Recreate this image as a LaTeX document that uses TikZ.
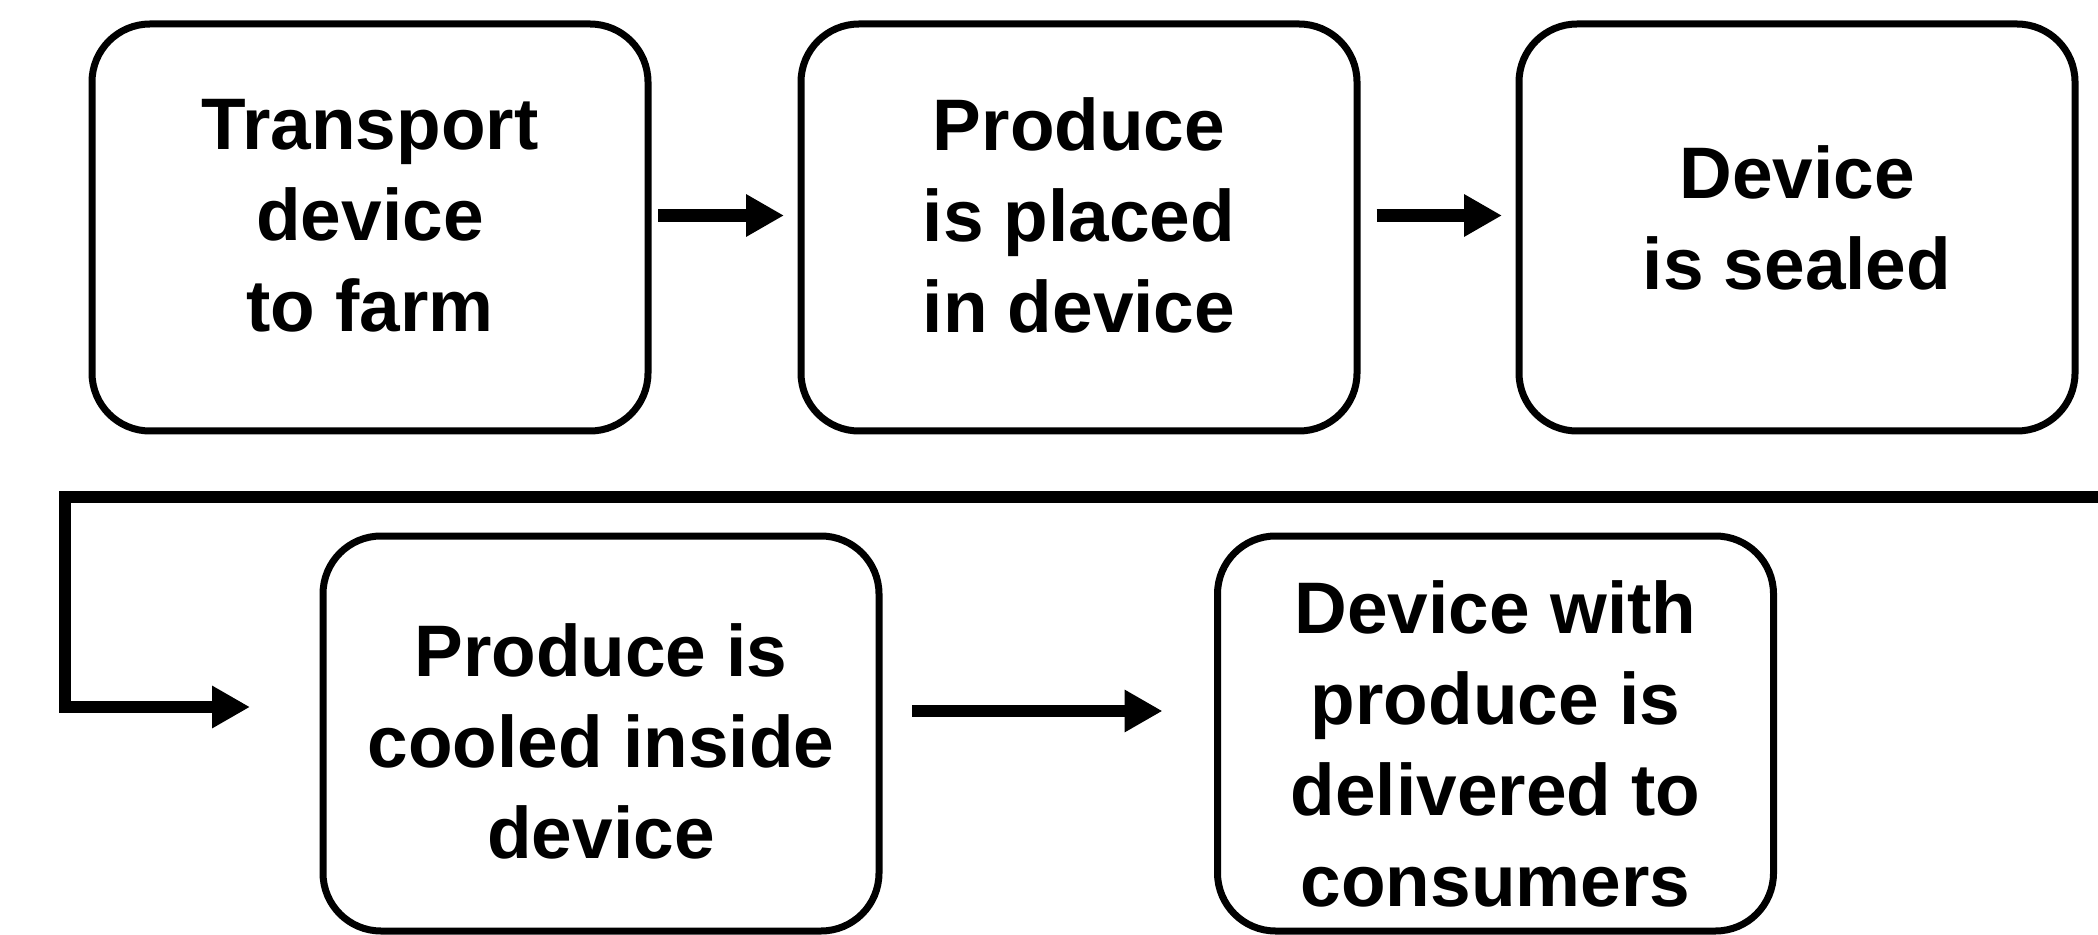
\documentclass[tikz,border=0pt]{standalone}
\usepackage{fontspec}
\setmainfont{Liberation Sans}
\usetikzlibrary{arrows.meta}
\tikzset{
  stepbox/.style={draw=black, line width=3.5pt, rounded corners=29pt,
    inner sep=0pt, fill=white},
  toprow/.style={stepbox, minimum width=278pt, minimum height=203.5pt},
  botrow/.style={stepbox, minimum width=278pt, minimum height=197.5pt},
  steptext/.style={inner sep=0pt, align=center,
    font=\bfseries\fontsize{36.5pt}{45.5pt}\selectfont},
  arr/.style={line width=6.25pt, -{Triangle[length=19pt,width=20pt]}}
}
\begin{document}
\begin{tikzpicture}[x=0.5pt,y=-0.5pt]
\useasboundingbox[fill=white] (0,0) rectangle (2098,935);
\node[toprow] (b1) at (370,227.5) {};
\node[toprow] (b2) at (1079,227.5) {};
\node[toprow] (b3) at (1797,227.5) {};
\node[botrow] (b4) at (601,733.5) {};
\node[botrow] (b5) at (1495.5,733.5) {};
\node[steptext] (t1) at ([yshift=6pt]b1.center) {Transport\\device\\to farm};
\node[steptext] (t2) at ([yshift=6pt]b2.center) {Produce\\is placed\\in device};
\node[steptext] (t3) at ([yshift=5pt]b3.center) {Device\\is sealed};
\node[steptext] (t4) at ([yshift=-4pt]b4.center) {Produce is\\cooled inside\\device};
\node[steptext] (t5) at ([yshift=-5pt]b5.center) {Device with\\produce is\\delivered to\\consumers};
\coordinate (cr) at (2120,497);
\coordinate (cl) at (65,497);
\draw[arr, shorten <=3.25pt, shorten >=6.75pt] ([yshift=6pt]b1.east) -- ([yshift=6pt]b2.west);
\draw[arr, shorten <=8pt, shorten >=6.75pt] ([yshift=6pt]b2.east) -- ([yshift=6pt]b3.west);
\draw[arr, shorten <=14.75pt, shorten >=25.75pt] ([yshift=11.25pt]b4.east) -- ([yshift=11.25pt]b5.west);
\draw[arr, line join=miter] (cr) -- (cl) |- ([yshift=13.25pt,xshift=-34.75pt]b4.west);
\end{tikzpicture}
\end{document}
